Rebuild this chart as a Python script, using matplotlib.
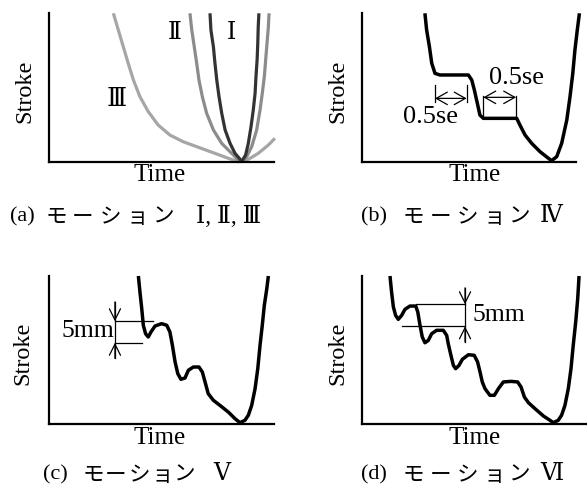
import matplotlib
matplotlib.use("Agg")
import matplotlib.pyplot as plt
from matplotlib.patches import FancyArrowPatch

W, H = 587, 491
SERIF = ['Liberation Serif', 'DejaVu Serif', 'Noto Sans CJK JP']
JP = ['Noto Sans CJK JP', 'DejaVu Sans']

# ---- data (normalised time / stroke) ----
m1_x = [0.716, 0.720, 0.731, 0.738, 0.746, 0.756, 0.768, 0.783, 0.805, 0.827, 0.857,
        0.874, 0.886, 0.898, 0.908, 0.916, 0.920, 0.925, 0.928, 0.930, 0.933]
m1_y = [0.998, 0.886, 0.774, 0.662, 0.550, 0.438, 0.327, 0.215, 0.125, 0.058, 0.005,
        0.047, 0.125, 0.237, 0.349, 0.461, 0.572, 0.685, 0.797, 0.908, 0.998]

m2_x = [0.627, 0.635, 0.646, 0.657, 0.667, 0.682, 0.701, 0.731, 0.768, 0.812, 0.842,
        0.857, 0.879, 0.901, 0.923, 0.938, 0.948, 0.957, 0.963, 0.969, 0.975, 0.978]
m2_y = [0.998, 0.886, 0.774, 0.662, 0.550, 0.438, 0.327, 0.215, 0.125, 0.058, 0.013,
        0.002, 0.036, 0.103, 0.215, 0.349, 0.461, 0.572, 0.685, 0.797, 0.908, 0.998]

m3_x = [0.287, 0.309, 0.331, 0.353, 0.376, 0.405, 0.442, 0.486, 0.538, 0.597, 0.664,
        0.738, 0.797, 0.842, 0.886, 0.930, 0.975, 1.004]
m3_y = [0.998, 0.886, 0.774, 0.662, 0.550, 0.438, 0.338, 0.248, 0.181, 0.136, 0.099,
        0.058, 0.025, 0.002, 0.018, 0.058, 0.114, 0.159]

m4_x = [0.294, 0.302, 0.315, 0.326, 0.341, 0.364, 0.497, 0.513, 0.525, 0.539, 0.551,
        0.567, 0.723, 0.738, 0.762, 0.793, 0.832, 0.871, 0.886, 0.910, 0.933, 0.957,
        0.972, 0.985, 0.995, 1.006, 1.016]
m4_y = [0.998, 0.886, 0.774, 0.662, 0.595, 0.584, 0.584, 0.550, 0.483, 0.394, 0.315,
        0.293, 0.293, 0.248, 0.181, 0.125, 0.069, 0.025, 0.009, 0.036, 0.125, 0.282,
        0.438, 0.595, 0.752, 0.886, 0.998]

m5_x = [0.398, 0.405, 0.413, 0.420, 0.430, 0.442, 0.454, 0.472, 0.501, 0.524, 0.538,
        0.549, 0.561, 0.573, 0.587, 0.605, 0.620, 0.642, 0.667, 0.682, 0.694, 0.708,
        0.731, 0.760, 0.797, 0.827, 0.849, 0.871, 0.886, 0.901, 0.916, 0.928, 0.938,
        0.948, 0.957, 0.968, 0.975]
m5_y = [1.000, 0.892, 0.779, 0.667, 0.610, 0.588, 0.622, 0.662, 0.678, 0.667, 0.622,
        0.532, 0.419, 0.340, 0.302, 0.311, 0.363, 0.385, 0.385, 0.351, 0.284, 0.205,
        0.160, 0.126, 0.081, 0.036, 0.009, 0.025, 0.059, 0.126, 0.239, 0.374, 0.532,
        0.667, 0.802, 0.914, 1.000]

m6_x = [0.125, 0.132, 0.140, 0.150, 0.162, 0.177, 0.192, 0.214, 0.240, 0.249, 0.259,
        0.269, 0.281, 0.296, 0.311, 0.333, 0.363, 0.378, 0.385, 0.397, 0.408, 0.418,
        0.433, 0.448, 0.475, 0.501, 0.516, 0.527, 0.537, 0.549, 0.571, 0.591, 0.609,
        0.631, 0.665, 0.695, 0.710, 0.725, 0.743, 0.772, 0.810, 0.839, 0.854, 0.876,
        0.891, 0.906, 0.921, 0.933, 0.943, 0.954, 0.963, 0.969]
m6_y = [1.000, 0.892, 0.791, 0.734, 0.707, 0.734, 0.775, 0.797, 0.797, 0.757, 0.667,
        0.588, 0.549, 0.565, 0.610, 0.633, 0.633, 0.599, 0.543, 0.464, 0.396, 0.374,
        0.396, 0.437, 0.468, 0.464, 0.419, 0.351, 0.284, 0.239, 0.194, 0.194, 0.239,
        0.284, 0.288, 0.284, 0.250, 0.182, 0.144, 0.104, 0.054, 0.025, 0.009, 0.025,
        0.059, 0.126, 0.239, 0.374, 0.532, 0.689, 0.847, 1.000]

katakana = 'モーション'
cap_labels = ['(a)', '(b)', '(c)', '(d)']
cap_numerals = ['Ⅰ, Ⅱ, Ⅲ', 'Ⅳ', 'Ⅴ', 'Ⅵ']

fig = plt.figure(figsize=(W / 100, H / 100), dpi=100)


def px_axes(l, t, r, b):
    return fig.add_axes([l / W, 1 - b / H, (r - l) / W, (b - t) / H])


def ftext(x, y, s, ha='center', **kw):
    kw.setdefault('family', SERIF)
    fig.text(x / W, 1 - y / H, s, ha=ha, va='center', **kw)


def style(ax):
    ax.set_xlim(0, 1)
    ax.set_ylim(0, 1)
    for s in ('top', 'right'):
        ax.spines[s].set_visible(False)
    for s in ('left', 'bottom'):
        ax.spines[s].set_linewidth(1.6)
    ax.set_xticks([])
    ax.set_yticks([])
    ax.patch.set_alpha(0)


def arrow(ax, p0, p1, st='->,head_length=0.8,head_width=0.4'):
    ax.add_patch(FancyArrowPatch(p0, p1, arrowstyle=st, mutation_scale=10,
                                 lw=0.9, color='black', shrinkA=0, shrinkB=0,
                                 clip_on=False))


axA = px_axes(48.7, 13, 274, 162)
axB = px_axes(362, 13, 576, 162)
axC = px_axes(48.7, 276, 274, 424)
axD = px_axes(362, 276, 586, 424)
for ax in (axA, axB, axC, axD):
    style(ax)

LW = 2.5
# (a)
axA.plot(m3_x, m3_y, color='#a6a6a6', lw=2.3, clip_on=False, solid_capstyle='butt')
axA.plot(m2_x, m2_y, color='#8c8c8c', lw=2.3, clip_on=False, solid_capstyle='butt')
axA.plot(m1_x, m1_y, color='#333333', lw=2.3, clip_on=False, solid_capstyle='butt')
axA.text(0.561, 0.864, 'Ⅱ', family=SERIF, fontsize=17, ha='center', va='center')
axA.text(0.812, 0.864, 'Ⅰ', family=SERIF, fontsize=17, ha='center', va='center')
axA.text(0.302, 0.416, 'Ⅲ', family=SERIF, fontsize=18.5, ha='center', va='center')

# (b)
axB.plot(m4_x, m4_y, color='black', lw=LW, clip_on=False, solid_capstyle='butt')
for xb in (0.341, 0.489):
    axB.plot([xb, xb], [0.405, 0.517], color='black', lw=0.9)
for xb in (0.567, 0.720):
    axB.plot([xb, xb], [0.309, 0.443], color='black', lw=0.9)
dstyle = '<->,head_length=0.8,head_width=0.45'
arrow(axB, (0.341, 0.427), (0.489, 0.427), dstyle)
arrow(axB, (0.567, 0.434), (0.720, 0.434), dstyle)
axB.text(0.321, 0.300, '0.5se', family=SERIF, fontsize=19, ha='center', va='center')
axB.text(0.723, 0.562, '0.5se', family=SERIF, fontsize=19, ha='center', va='center')

# (c)
axC.plot(m5_x, m5_y, color='black', lw=LW, clip_on=False, solid_capstyle='butt')
axC.plot([0.294, 0.464], [0.694, 0.694], color='black', lw=0.9)
axC.plot([0.294, 0.413], [0.549, 0.549], color='black', lw=0.9)
axC.plot([0.294, 0.294], [0.444, 0.825], color='black', lw=0.9)
arrow(axC, (0.294, 0.825), (0.294, 0.694))
arrow(axC, (0.294, 0.444), (0.294, 0.549))
axC.text(0.172, 0.626, '5mm', family=SERIF, fontsize=18.5, ha='center', va='center')

# (d)
axD.plot(m6_x, m6_y, color='black', lw=LW, clip_on=False, solid_capstyle='butt')
axD.plot([0.240, 0.460], [0.809, 0.809], color='black', lw=0.9)
axD.plot([0.177, 0.460], [0.660, 0.660], color='black', lw=0.9)
axD.plot([0.460, 0.460], [0.554, 0.92], color='black', lw=0.9)
arrow(axD, (0.460, 0.92), (0.460, 0.809))
arrow(axD, (0.460, 0.554), (0.460, 0.660))
axD.text(0.609, 0.734, '5mm', family=SERIF, fontsize=18.5, ha='center', va='center')

# axis labels
for (tx, ty), (sx, sy) in [((160, 175), (25, 91)), ((475, 175), (338, 91)),
                           ((160, 438), (23, 353)), ((475, 438), (338, 353))]:
    ftext(tx, ty, 'Time', fontsize=18)
    ftext(sx, sy, 'Stroke', fontsize=17.5, rotation=90)

# captions (label, katakana centres, numerals start)
cap_layout = [
    (217, 10, [56, 83, 110, 137, 164], 196),
    (217, 361, [413, 440, 467, 494, 520], 540),
    (475, 43, [93, 116, 139, 162, 185], 213),
    (475, 361, [413, 440, 467, 494, 520], 540),
]
for lab, num, (cy, lx, kx, nx) in zip(cap_labels, cap_numerals, cap_layout):
    ftext(lx, cy, lab, ha='left', fontsize=16)
    for ch, x in zip(katakana, kx):
        ftext(x, cy, ch, fontsize=15.5, family=JP, color='black')
    ftext(nx, cy, num, ha='left', fontsize=17)

fig.savefig('out.png', dpi=100)
